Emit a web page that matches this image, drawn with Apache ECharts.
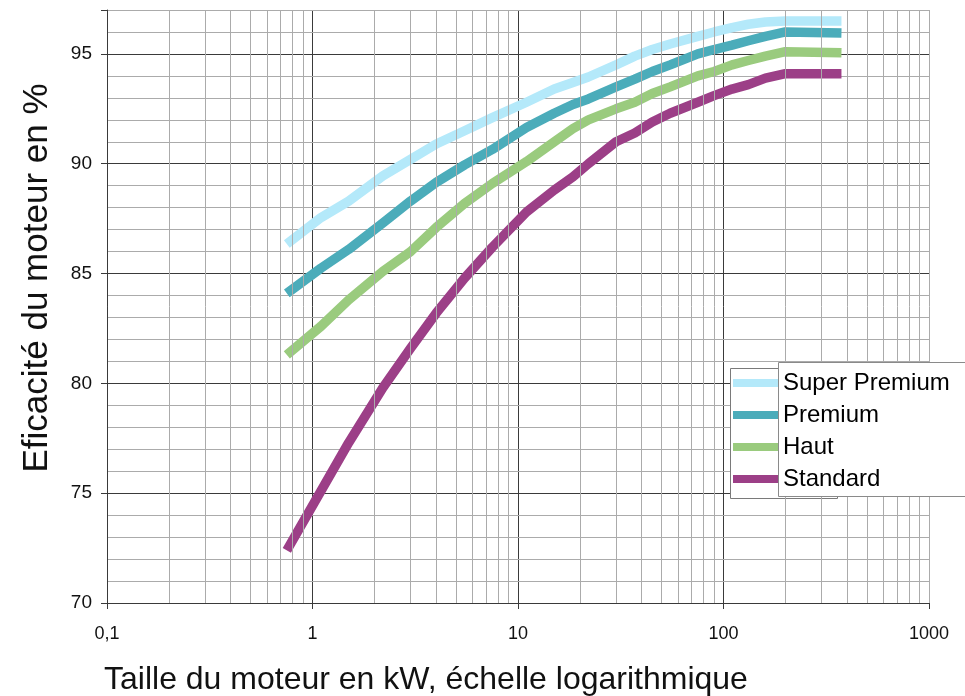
<!DOCTYPE html>
<html>
<head>
<meta charset="utf-8">
<script src="https://cdn.jsdelivr.net/npm/echarts@6/dist/echarts.min.js"></script>
<style>
  html, body { margin: 0; padding: 0; background: #ffffff; }
  #chart { width: 965px; height: 696px; }
</style>
</head>
<body>
<div id="chart"></div>
<script>
// Motor rated power (kW), one entry per point of each efficiency curve
const powerKW = [0.75, 1.1, 1.5, 2.2, 3, 4, 5.5, 7.5, 11, 15, 18.5, 22, 30, 37, 45, 55, 75, 90, 110, 132, 160, 200, 375];

// Efficiency in % for each class
const superPremium = [86.35, 87.55, 88.3, 89.45, 90.2, 90.9, 91.5, 92.1, 92.8, 93.4, 93.7, 93.95, 94.5, 94.9, 95.2, 95.45, 95.8, 96.0, 96.2, 96.35, 96.45, 96.5, 96.5];
const premium      = [84.1, 85.25, 86.1, 87.3, 88.3, 89.15, 89.95, 90.65, 91.65, 92.3, 92.7, 92.95, 93.5, 93.85, 94.2, 94.5, 95.0, 95.2, 95.4, 95.6, 95.8, 96.0, 95.95];
const haut         = [81.3, 82.6, 83.8, 85.1, 86.0, 87.1, 88.2, 89.1, 90.1, 91.0, 91.6, 92.0, 92.5, 92.8, 93.2, 93.5, 94.0, 94.2, 94.5, 94.7, 94.9, 95.1, 95.05];
const standard     = [72.4, 75.1, 77.3, 79.8, 81.6, 83.2, 84.8, 86.2, 87.8, 88.8, 89.4, 90.0, 91.0, 91.4, 91.9, 92.3, 92.8, 93.1, 93.4, 93.6, 93.9, 94.1, 94.1];

const seriesNames = ['Super Premium', 'Premium', 'Haut', 'Standard'];
const seriesColors = ['#b4e9fa', '#4bacba', '#9acb7e', '#9c3f87'];

// Axis tick labels
const xTickLabels = ['0,1', '1', '10', '100', '1000'];
const yTickLabels = ['70', '75', '80', '85', '90', '95'];

// Intermediate log gridlines (2..9 within each decade)
const minorX = [];
[0.1, 1, 10, 100].forEach(d => { for (let m = 2; m <= 9; m++) minorX.push(+(m * d).toPrecision(3)); });

const FONT = '"Liberation Sans", Arial, sans-serif';
const MAJOR = '#3a3a3a';
const MINOR = '#ababab';

const pair = vals => powerKW.map((k, i) => [k, vals[i]]);

const chart = echarts.init(document.getElementById('chart'), null, { renderer: 'canvas' });

chart.setOption({
  animation: false,
  backgroundColor: '#ffffff',
  textStyle: { fontFamily: FONT },
  grid: { left: 107, right: 36, top: 10, bottom: 93, containLabel: false },
  xAxis: {
    type: 'log',
    logBase: 10,
    min: 0.1,
    max: 1000,
    axisLine: { show: true, onZero: false, lineStyle: { color: MAJOR, width: 1 } },
    axisTick: { show: true, length: 6, lineStyle: { color: MAJOR } },
    axisLabel: {
      margin: 22,
      fontSize: 18,
      color: '#111',
      fontFamily: FONT,
      formatter: (v, i) => xTickLabels[i] !== undefined ? xTickLabels[i] : ''
    },
    splitLine: { show: true, lineStyle: { color: [MAJOR, MAJOR, MAJOR, MAJOR, MINOR], width: 1 } }
  },
  yAxis: [
    {
      type: 'value',
      min: 70,
      max: 97,
      interval: 5,
      z: 3,
      axisLine: { show: true, lineStyle: { color: MAJOR, width: 1 } },
      axisTick: { show: true, length: 6, lineStyle: { color: MAJOR } },
      axisLabel: {
        margin: 15,
        fontSize: 19,
        color: '#111',
        fontFamily: FONT,
        formatter: (v) => {
          const idx = yTickLabels.indexOf(String(v));
          return idx >= 0 ? yTickLabels[idx] : '';
        }
      },
      splitLine: { show: true, lineStyle: { color: [MAJOR, MAJOR, MAJOR, MAJOR, MAJOR, MAJOR, MINOR], width: 1 } }
    },
    {
      type: 'value',
      min: 70,
      max: 97,
      interval: 1,
      z: 1,
      axisLine: { show: false },
      axisTick: { show: false },
      axisLabel: { show: false },
      splitLine: { show: true, lineStyle: { color: MINOR, width: 1 } }
    }
  ],
  legend: {
    orient: 'vertical',
    left: 733,
    top: 370,
    padding: 0,
    itemGap: 6,
    itemWidth: 45,
    itemHeight: 8,
    icon: 'rect',
    data: seriesNames,
    textStyle: { fontSize: 24, lineHeight: 26, color: '#000', fontFamily: FONT },
    z: 10
  },
  graphic: [
    {
      type: 'rect', z: 5, silent: true,
      shape: { x: 730.5, y: 368.5, width: 107, height: 130 },
      style: { fill: '#ffffff', stroke: '#7a7a7a', lineWidth: 1 }
    },
    {
      type: 'rect', z: 6, silent: true,
      shape: { x: 778.5, y: 362.5, width: 200, height: 134 },
      style: { fill: '#ffffff', stroke: '#8a8a8a', lineWidth: 1 }
    },
    {
      type: 'text', z: 5, silent: true,
      x: 104, y: 680,
      style: {
        text: 'Taille du moteur en kW, échelle logarithmique',
        font: '32px ' + FONT, fill: '#111',
        textAlign: 'left', textVerticalAlign: 'middle'
      }
    },
    {
      type: 'text', z: 5, silent: true,
      x: 37, y: 278, rotation: Math.PI / 2,
      style: {
        text: 'Eficacité du moteur en %',
        font: '35px ' + FONT, fill: '#111',
        textAlign: 'center', textVerticalAlign: 'middle'
      }
    }
  ],
  series: [
    {
      name: 'minor-grid',
      type: 'line',
      data: [],
      z: 1,
      silent: true,
      markLine: {
        silent: true,
        symbol: 'none',
        label: { show: false },
        lineStyle: { color: MINOR, width: 1, type: 'solid' },
        data: minorX.map(v => ({ xAxis: v }))
      }
    },
    ...seriesNames.map((name, i) => ({
      name,
      type: 'line',
      data: pair([superPremium, premium, haut, standard][i]),
      z: 4,
      showSymbol: false,
      symbol: 'none',
      smooth: false,
      color: seriesColors[i],
      lineStyle: { width: 9.5, color: seriesColors[i], cap: 'butt', join: 'round' }
    }))
  ]
});
</script>
</body>
</html>
